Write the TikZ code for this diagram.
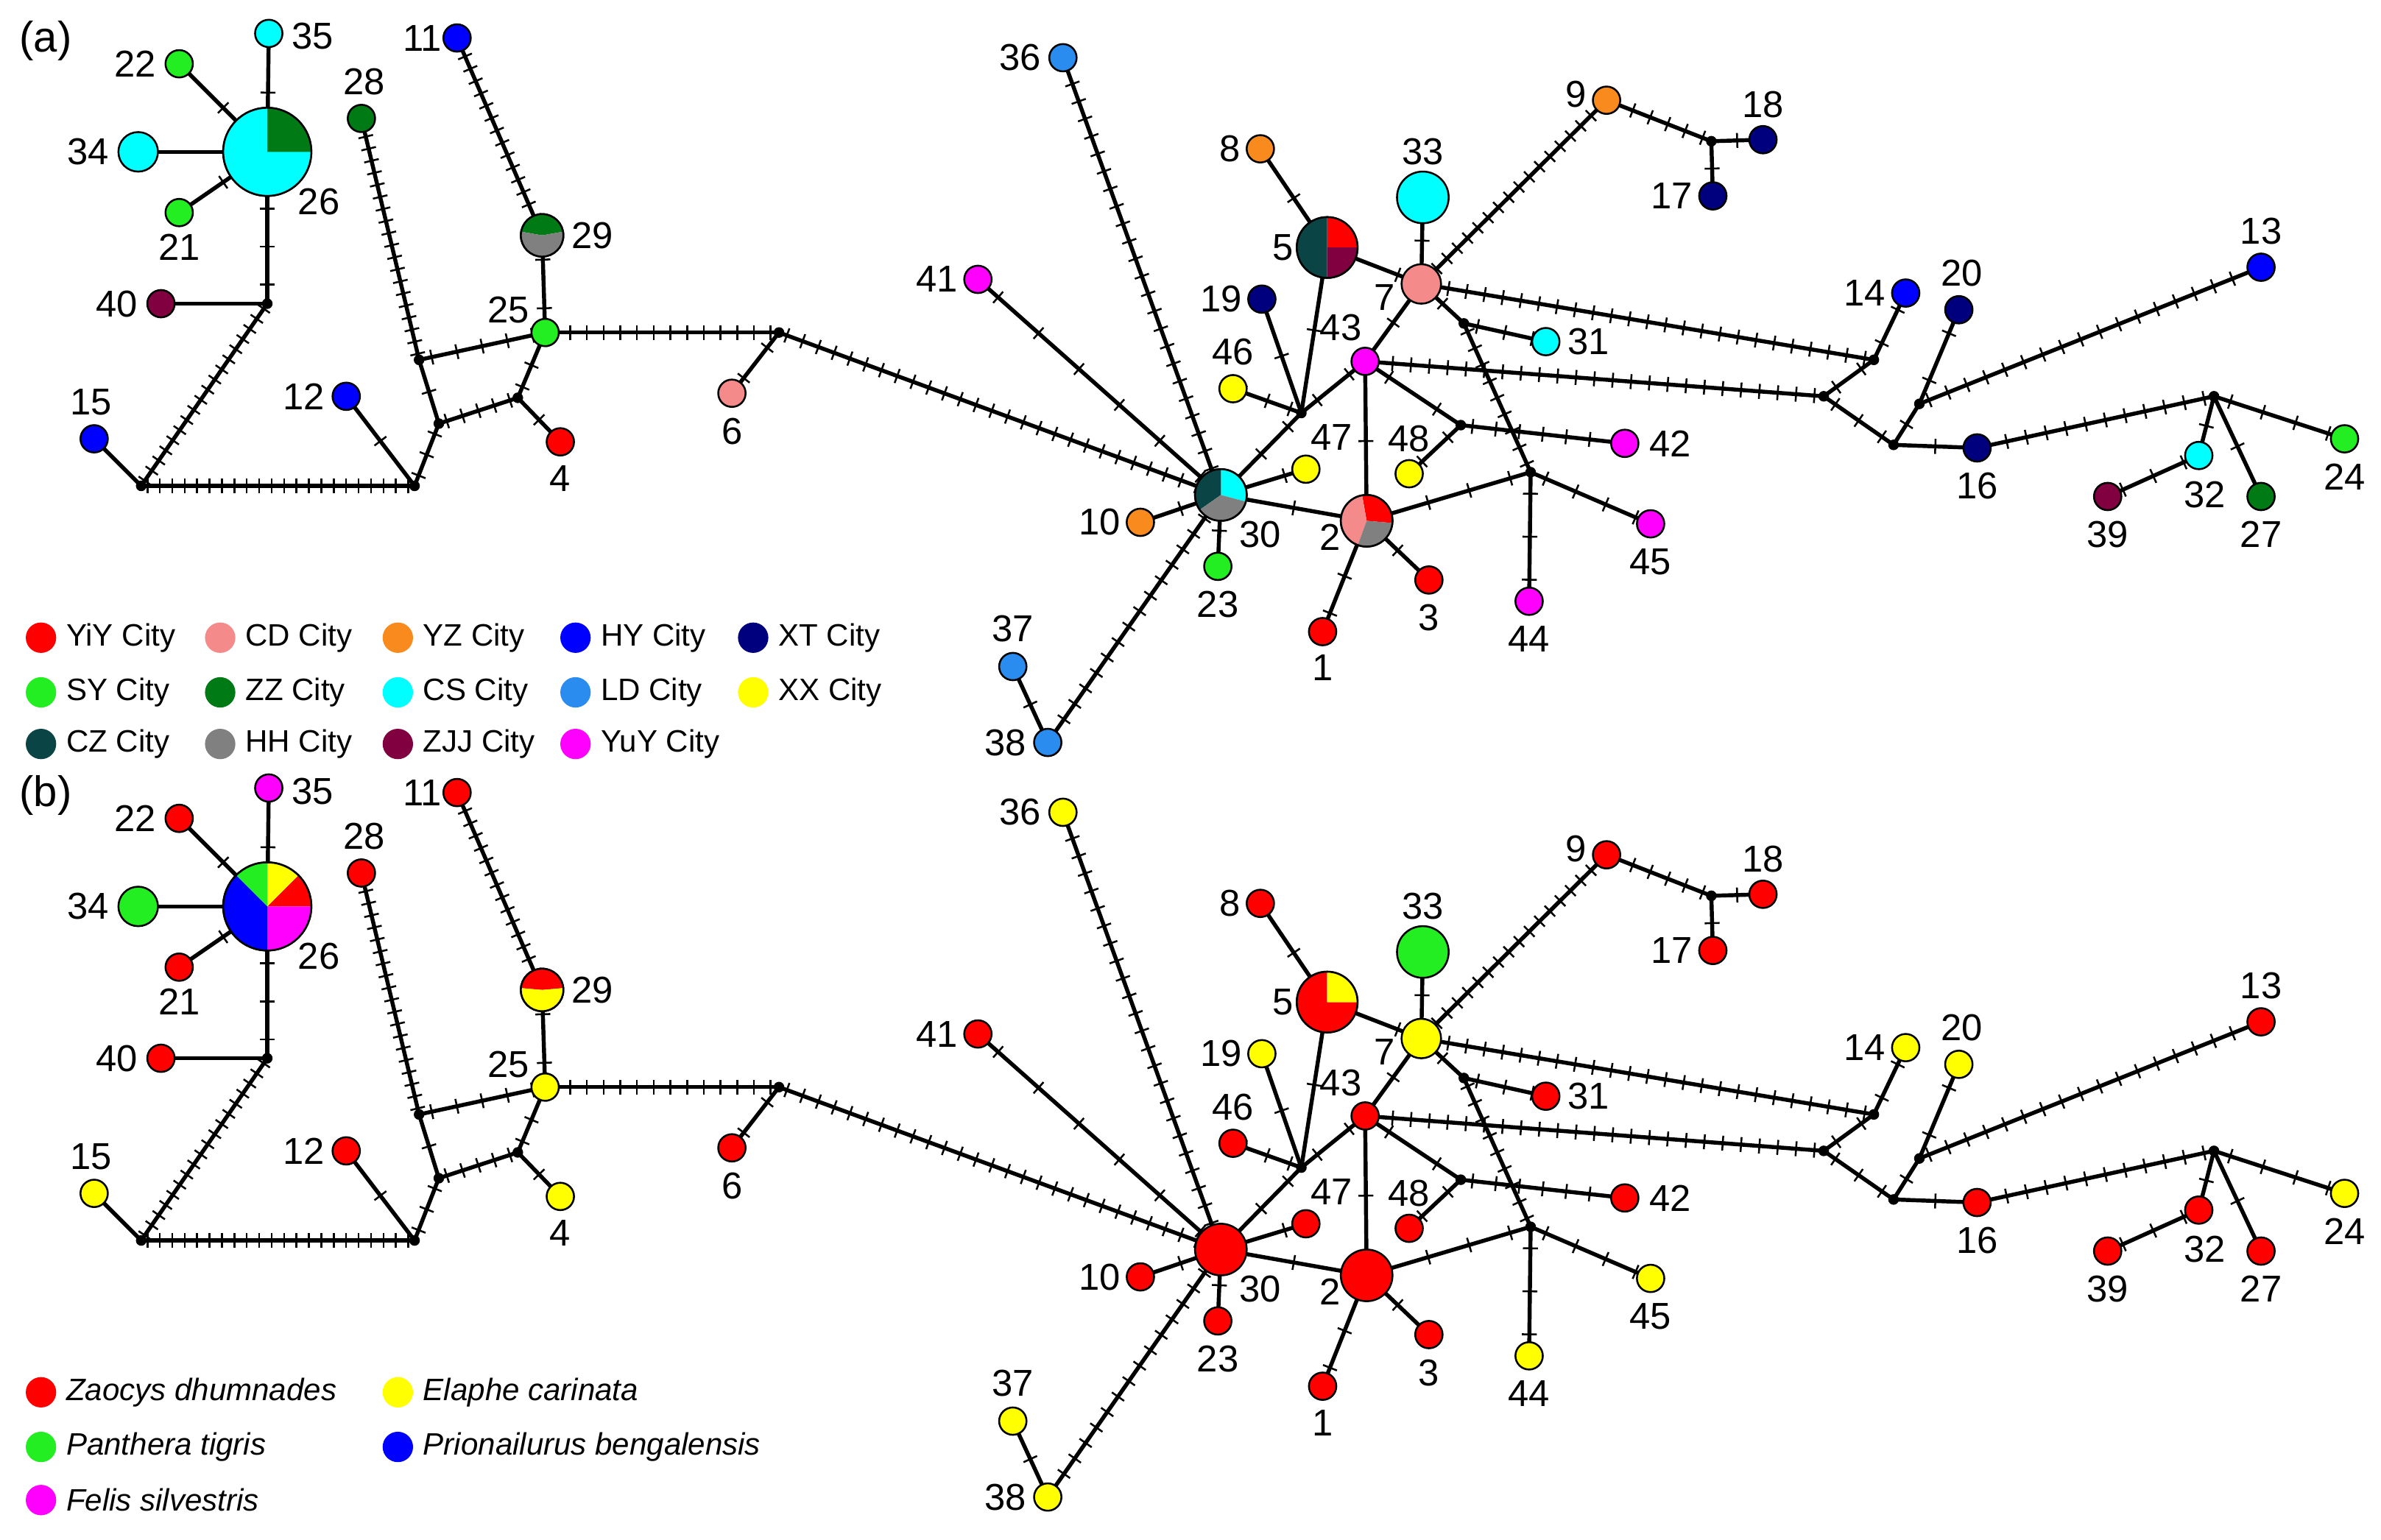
\documentclass[tikz,border=0pt]{standalone}
\usepackage{fontspec}
\setmainfont{Liberation Sans}
\usetikzlibrary{decorations.markings}
\definecolor{YiY}{HTML}{FF0000}
\definecolor{CD}{HTML}{F48A8A}
\definecolor{YZ}{HTML}{F88A1E}
\definecolor{HY}{HTML}{0000FF}
\definecolor{XT}{HTML}{00007F}
\definecolor{SY}{HTML}{22EE22}
\definecolor{ZZ}{HTML}{007A14}
\definecolor{CS}{HTML}{00FFFF}
\definecolor{LD}{HTML}{2A8CEE}
\definecolor{XX}{HTML}{FFFF00}
\definecolor{CZ}{HTML}{0A4444}
\definecolor{HH}{HTML}{808080}
\definecolor{ZJJ}{HTML}{800040}
\definecolor{YuY}{HTML}{FF00FF}
\tikzset{
 edge/.style={line width=0.75pt},
 tk/.style={postaction={decorate,decoration={markings,mark=between positions {0.5/#1} and {1-0.4/#1} step {1/#1} with {\draw[line width=0.35pt] (0,-1.4pt)--(0,1.4pt);}}}},
 hap/.style={circle,draw=black,line width=0.35pt,inner sep=0pt},
 lab/.style={font=\fontsize{7}{8}\selectfont,inner sep=0pt},
 leg/.style={font=\fontsize{5.8}{7}\selectfont,anchor=west,inner sep=0pt},
 legc/.style={circle,minimum size=0.2cm,inner sep=0pt},
 jn/.style={circle,fill=black,minimum size=0.07cm,inner sep=0pt}
}
\newcommand\E[3]{\ifnum#3=0 \draw[edge] (#1)--(#2);\else\draw[edge,tk=#3] (#1)--(#2);\fi}
\newcommand\W[5]{\fill[#5] (#1.center) -- ++(#3:#2*0.01cm) arc[start angle=#3,end angle=#4,radius=#2*0.01cm] -- cycle;}
\newcommand\netw{%
 \foreach \n/\x/\y in {26/176/100,35/177/22,22/118/42,34/91/100,21/118/140,40/106/200,j1/176/200,
  28/238/78,11/301/25,29/357/155,25/359/219,12/228/261,15/62/289,4/369/291,6/482/259,
  j2/93/320,j3/273/320,j4/289/279,j5/276/237,j6/341/262,j7/513/219,
  30/804/326,36/700/38,41/644/184,10/751/344,23/802/373,37/667/439,38/690/489,
  j8/857/272,19/831/197,46/812/256,5/874/163,8/830/98,43/899/238,47/860/309,7/936/187,33/937/130,
  9/1058/66,j9/1127/93,18/1161/92,17/1128/129,j10/964/213,31/1018/225,j12/1008/311,
  j11/1234/237,14/1255/193,j13/1201/261,j14/1247/293,16/1302/295,j15/1264/266,20/1290/204,13/1489/176,
  j16/1458/261,24/1544/289,27/1489/327,32/1448/300,39/1388/327,
  2/900/343,48/928/312,j17/962/280,42/1070/292,45/1087/345,44/1007/396,1/871/416,3/941/382}
  {\coordinate (\n) at (\x,\y);}
 \foreach \a/\b/\k in {26/35/1,26/22/1,26/34/0,26/21/1,26/j1/4,j1/40/0,j1/j2/18,j2/15/0,j2/j3/22,j3/12/1,
  j3/j4/3,j4/j5/1,j5/28/20,j5/25/5,j4/j6/5,j6/25/3,j6/4/1,11/29/16,29/25/2,25/j7/14,j7/6/2,j7/30/28,
  36/30/25,41/30/6,38/30/16,37/38/1,10/30/1,23/30/1,j8/30/3,j8/19/1,j8/46/3,j8/5/1,j8/43/2,5/8/1,5/7/2,
  43/7/1,33/7/1,7/9/18,9/j9/6,j9/18/1,j9/17/1,7/j10/1,j10/31/3,j10/j12/9,7/j11/25,43/j13/25,43/2/1,
  43/j17/2,j17/48/2,j17/42/7,2/1/3,2/3/1,j12/2/4,j12/44/3,j12/45/4,30/2/1,47/30/2,j11/14/2,j11/j13/2,
  j13/j14/3,j14/16/1,j14/j15/1,j15/20/2,j15/13/18,16/j16/12,j16/24/4,j16/32/1,j16/27/1,32/39/3}
  {\E{\a}{\b}{\k}}
 \foreach \j in {j1,j2,j3,j4,j5,j6,j7,j8,j9,j10,j11,j12,j13,j14,j15,j16,j17}{\node[jn] (d\j) at (\j) {};}
 \foreach \n/\r/\lx/\ly in {26/29/210/133,35/9/206/24,22/9/89/42,34/13/58/100,21/9/118/163,40/9/77/200,
  28/9/240/54,11/9/278/25,29/14/390/155,25/9/335/204,12/9/200/261,15/9/60/265,4/9/369/315,6/9/482/284,
  36/9/672/38,41/9/617/184,10/9/724/344,23/9/802/398,30/17/830/352,37/9/667/414,38/9/662/489,
  19/9/804/197,46/9/812/232,5/20/845/163,8/9/810/98,33/17/937/100,7/13/912/196,43/9/883/216,
  47/9/877/288,48/9/928/289,2/17/876/354,1/9/871/440,3/9/941/407,9/9/1038/62,18/9/1161/69,
  17/9/1101/129,31/9/1046/225,42/9/1100/292,45/9/1087/370,44/9/1007/421,14/9/1228/193,20/9/1292/180,
  13/9/1489/152,16/9/1302/320,24/9/1544/314,27/9/1489/352,32/9/1452/326,39/9/1388/352}
  {\edef\cc{\csname hc\n\endcsname}\node[hap,minimum size={\r*0.02cm},fill=\cc] (h\n) at (\n) {};
   \node[lab] (l\n) at (\lx,\ly) {\n};}
}
\newcommand\setcols[1]{\foreach \i/\c in {#1}{\expandafter\xdef\csname hc\i\endcsname{\c}}}
\begin{document}
\begin{tikzpicture}[x=0.01cm,y=-0.01cm]
\useasboundingbox[fill=white] (0,0) rectangle (1568,1014);
% panel a
\setcols{26/white,35/CS,22/SY,34/CS,21/SY,40/ZJJ,28/ZZ,11/HY,29/white,25/SY,12/HY,15/HY,4/YiY,6/CD,
 36/LD,41/YuY,10/YZ,23/SY,30/white,37/LD,38/LD,19/XT,46/XX,47/XX,5/white,8/YZ,33/CS,7/CD,43/YuY,
 48/XX,2/white,1/YiY,3/YiY,9/YZ,18/XT,17/XT,31/CS,42/YuY,45/YuY,44/YuY,14/HY,20/XT,13/HY,16/XT,
 24/SY,27/ZZ,32/CS,39/ZJJ}
\begin{scope}[name prefix=a-]
\netw
\W{h26}{29}{0}{360}{CS}\W{h26}{29}{0}{90}{ZZ}\draw[line width=0.35pt] (h26.center) circle[radius=0.29cm];
\W{h29}{14}{10}{170}{ZZ}\W{h29}{14}{170}{370}{HH}\draw[line width=0.35pt] (h29.center) circle[radius=0.14cm];
\W{h30}{17}{-15}{90}{CS}\W{h30}{17}{90}{215}{CZ}\W{h30}{17}{215}{345}{HH}\draw[line width=0.35pt] (h30.center) circle[radius=0.17cm];
\W{h5}{20}{0}{90}{YiY}\W{h5}{20}{90}{270}{CZ}\W{h5}{20}{270}{360}{ZJJ}\draw[line width=0.35pt] (h5.center) circle[radius=0.20cm];
\W{h2}{17}{-5}{100}{YiY}\W{h2}{17}{100}{250}{CD}\W{h2}{17}{250}{355}{HH}\draw[line width=0.35pt] (h2.center) circle[radius=0.17cm];
\end{scope}
\node[lab,font=\fontsize{8}{9}\selectfont] (pa) at (30,27) {(a)};
\foreach \c/\t/\x/\y [count=\i] in {YiY/YiY City/27/420,CD/CD City/145/420,YZ/YZ City/262/420,HY/HY City/379/420,XT/XT City/496/420,
 SY/SY City/27/456,ZZ/ZZ City/145/456,CS/CS City/262/456,LD/LD City/379/456,XX/XX City/496/456,
 CZ/CZ City/27/490,HH/HH City/145/490,ZJJ/ZJJ City/262/490,YuY/YuY City/379/490}
 {\node[legc,fill=\c] (lc\i) at (\x,\y) {}; \node[leg] (lt\i) at (\x+16,\y) {\t};}
% panel b
\setcols{26/white,35/YuY,22/YiY,34/SY,21/YiY,40/YiY,28/YiY,11/YiY,29/white,25/XX,12/YiY,15/XX,4/XX,6/YiY,
 36/XX,41/YiY,10/YiY,23/YiY,30/YiY,37/XX,38/XX,19/XX,46/YiY,47/YiY,5/white,8/YiY,33/SY,7/XX,43/YiY,
 48/YiY,2/YiY,1/YiY,3/YiY,9/YiY,18/YiY,17/YiY,31/YiY,42/YiY,45/XX,44/XX,14/XX,20/XX,13/YiY,16/YiY,
 24/XX,27/YiY,32/YiY,39/YiY}
\begin{scope}[shift={(0,497)},name prefix=b-]
\netw
\W{h26}{29}{0}{45}{YiY}\W{h26}{29}{45}{90}{XX}\W{h26}{29}{90}{135}{SY}\W{h26}{29}{135}{270}{HY}\W{h26}{29}{270}{360}{YuY}\draw[line width=0.35pt] (h26.center) circle[radius=0.29cm];
\W{h29}{14}{5}{175}{YiY}\W{h29}{14}{175}{365}{XX}\draw[line width=0.35pt] (h29.center) circle[radius=0.14cm];
\W{h5}{20}{90}{360}{YiY}\W{h5}{20}{0}{90}{XX}\draw[line width=0.35pt] (h5.center) circle[radius=0.20cm];
\end{scope}
\node[lab,font=\fontsize{8}{9}\selectfont] (pb) at (30,524) {(b)};
\foreach \c/\t/\x/\y [count=\i] in {YiY/Zaocys dhumnades/27/917,XX/Elaphe carinata/262/917,
 SY/Panthera tigris/27/953,HY/Prionailurus bengalensis/262/953,YuY/Felis silvestris/27/988}
 {\node[legc,fill=\c] (mc\i) at (\x,\y) {}; \node[leg] (mt\i) at (\x+16,\y) {\itshape\t};}
\end{tikzpicture}
\end{document}
